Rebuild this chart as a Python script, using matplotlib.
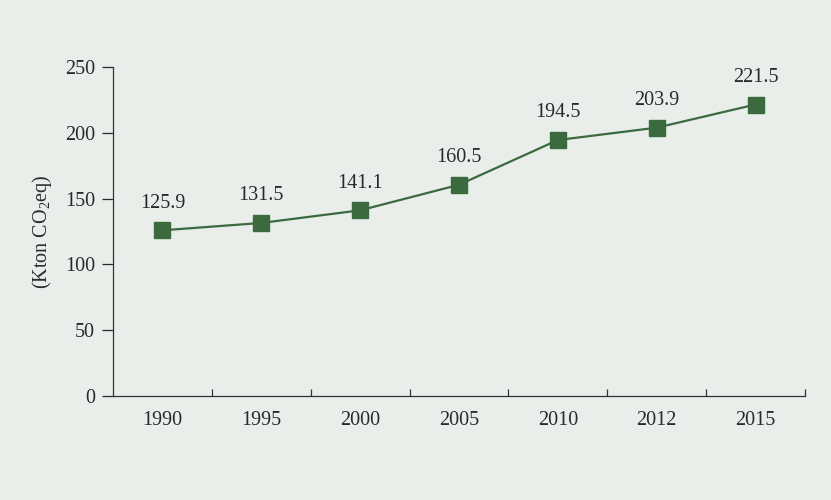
import numpy as np
import matplotlib
matplotlib.use("Agg")
import matplotlib.pyplot as plt

# ── data ──────────────────────────────────────────────────────────────────────
years = ["1990", "1995", "2000", "2005", "2010", "2012", "2015"]
emissions = [125.9, 131.5, 141.1, 160.5, 194.5, 203.9, 221.5]
y_ticks = [0, 50, 100, 150, 200, 250]

BG = "#eaeeeb"
GREEN = "#3b6a3f"
INK = "#2a2a2a"

plt.rcParams["font.family"] = ["Liberation Serif", "DejaVu Serif"]
plt.rcParams["mathtext.fontset"] = "custom"
plt.rcParams["mathtext.rm"] = "Liberation Serif"
plt.rcParams["mathtext.it"] = "Liberation Serif:italic"

fig = plt.figure(figsize=(8.31, 5.0), dpi=100)
fig.patch.set_facecolor(BG)
ax = fig.add_axes([0.136, 0.208, 0.9687 - 0.136, 0.866 - 0.208])
ax.set_facecolor(BG)

x = np.arange(len(years))
ax.plot(x, emissions, color=GREEN, lw=1.6, marker="s", ms=11.5,
        mfc=GREEN, mec=GREEN, zorder=3)

# value labels above each point
for xi, v in zip(x, emissions):
    ax.annotate(f"{v:.1f}", (xi, v), xytext=(0, 19.5), textcoords="offset points",
                ha="center", va="center", fontsize=14.5, color=INK)

ax.set_xlim(-0.5, len(years) - 0.5)
ax.set_ylim(0, 250)
ax.set_yticks(y_ticks)
ax.set_xticks(x)
ax.set_xticklabels(years)
ax.set_xticks(np.arange(0.5, len(years), 1), minor=True)

ax.tick_params(axis="x", which="major", length=0, pad=11, labelsize=14.5, colors=INK)
ax.tick_params(axis="x", which="minor", direction="in", length=5, width=0.9, color="#333333")
ax.tick_params(axis="y", length=8, width=0.9, pad=5, labelsize=14.5, colors=INK)

for s in ("top", "right"):
    ax.spines[s].set_visible(False)
for s in ("left", "bottom"):
    ax.spines[s].set_color("#333333")
    ax.spines[s].set_linewidth(0.9)

ax.set_ylabel(r"(Kton CO$_2$eq)", fontsize=14.5, color=INK, labelpad=8)

fig.savefig("out.png", dpi=100, facecolor=BG)
